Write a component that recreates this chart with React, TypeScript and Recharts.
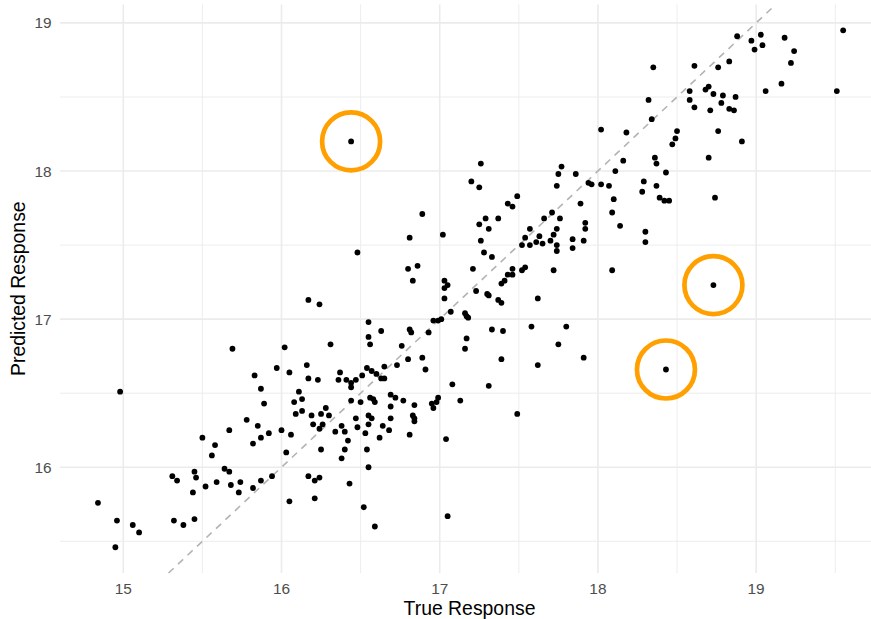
import React from 'react';
import { ScatterChart, Scatter, XAxis, YAxis, CartesianGrid, ReferenceLine, Label } from 'recharts';

// Observed (true) response for each observation
const trueResponse = [
  14.98, 14.84, 14.96, 14.95, 15.06, 15.10, 15.32, 15.38, 15.45, 15.31,
  15.34, 15.45, 15.46, 15.44, 15.52, 15.50, 15.58, 15.56, 15.67, 15.78,
  15.59, 15.64, 15.67, 15.68, 15.74, 15.73,
  16.17, 16.24, 16.55, 16.55, 16.56, 16.02, 16.31, 15.97, 15.83, 16.05,
  16.16, 16.17, 16.23, 16.37, 16.36, 16.41, 16.44, 16.47, 16.51, 16.54,
  16.44, 15.87, 15.89, 16.11, 16.13, 16.08, 16.09, 16.13, 16.19, 16.20,
  16.25, 16.28, 16.30, 16.26, 16.24, 16.44, 16.50, 16.47, 16.48, 16.55,
  16.57, 16.55, 16.38, 16.40, 16.34, 16.42, 16.40, 16.38, 16.53, 16.54,
  16.55, 15.85, 15.92, 15.87, 15.82, 16.00, 16.06, 16.03, 16.25, 15.82,
  15.87, 15.94, 16.17, 16.21, 16.24, 16.43, 16.05, 16.21, 16.52,
  16.80, 16.86, 16.83, 17.21, 17.03, 17.05, 17.03, 17.23, 17.30, 17.31,
  17.03, 17.07, 17.16, 17.18, 17.17, 17.17, 17.16, 16.96, 16.99, 17.01,
  16.93, 16.81, 16.82, 16.76, 16.80, 16.89, 16.91, 16.73, 16.65, 16.63,
  16.57, 16.60, 16.63, 16.65, 16.56, 16.58, 16.59, 16.69, 16.72, 16.77,
  16.69, 16.84, 16.83, 16.84, 16.84, 16.95, 16.96, 16.98, 16.99, 17.08,
  17.13, 17.31, 16.64, 16.62, 16.69, 16.68, 16.81, 17.04, 16.59, 17.05,
  17.20, 17.25, 17.49, 17.43, 17.46, 16.89, 16.81, 17.02, 17.25, 17.29,
  17.31, 17.37, 17.26, 17.28, 17.33, 17.37, 17.39, 17.39, 17.41, 17.43,
  17.46, 17.46, 17.52, 17.54, 17.52, 17.54, 17.57, 17.57, 17.33, 17.40,
  17.58, 17.77, 17.75, 17.74, 17.86, 18.16, 18.11, 17.94, 17.96, 18.02,
  18.07, 18.10, 18.09, 18.14, 17.89, 17.92, 17.92, 17.91, 17.84, 17.84,
  17.26, 17.66, 17.71, 17.76, 17.74, 17.72, 17.63, 17.61, 17.65, 17.70,
  17.74, 17.74, 17.72, 17.62, 18.09, 17.80, 17.75, 17.39, 17.62, 17.91,
  17.49,
  18.35, 18.61, 18.76, 18.83, 18.32, 18.34, 18.58, 18.58, 18.61, 18.68,
  18.70, 18.73, 18.79, 18.78, 18.87, 18.83, 18.86, 18.71, 18.76, 18.91,
  18.70, 18.74, 18.02, 18.18, 18.50, 18.49, 18.47, 18.36, 18.37, 18.43,
  18.29, 18.28, 18.37, 18.39, 18.42, 18.45, 18.30, 18.30, 18.88, 18.97,
  19.03, 19.04, 18.99, 19.18, 19.24, 19.22, 19.16, 19.06, 19.55, 19.51,
  16.44, 16.48, 15.69, 18.73, 18.43,
];

// Model prediction for each observation (same order as trueResponse)
const predictedResponse = [
  16.51, 15.76, 15.64, 15.46, 15.61, 15.56, 15.64, 15.61, 15.65, 15.94,
  15.91, 15.97, 15.93, 15.83, 15.87, 16.20, 16.15, 16.08, 16.25, 16.32,
  15.90, 15.99, 15.97, 15.88, 15.90, 15.83,
  17.13, 17.10, 16.98, 16.88, 16.83, 16.81, 16.83, 16.67, 16.62, 16.64,
  16.69, 16.60, 16.59, 16.64, 16.59, 16.59, 16.57, 16.59, 16.62, 16.67,
  16.54, 16.53, 16.43, 16.51, 16.46, 16.44, 16.36, 16.38, 16.35, 16.29,
  16.36, 16.40, 16.35, 16.29, 16.26, 16.45, 16.44, 16.33, 16.27, 16.35,
  16.33, 16.29, 16.28, 16.24, 16.24, 16.18, 16.12, 16.06, 16.23, 16.12,
  16.00, 16.28, 16.23, 16.20, 16.16, 16.25, 16.22, 16.10, 16.12, 15.86,
  15.91, 15.94, 15.94, 15.91, 15.93, 15.89, 15.77, 15.79, 15.73,
  17.34, 17.36, 17.26, 17.34, 17.26, 17.23, 17.21, 17.19, 17.17, 17.16,
  17.14, 17.05, 17.04, 17.01, 17.02, 16.87, 16.80, 16.99, 16.99, 17.00,
  16.91, 16.93, 16.91, 16.82, 16.73, 16.74, 16.66, 16.69, 16.68, 16.92,
  16.65, 16.63, 16.60, 16.60, 16.47, 16.46, 16.44, 16.49, 16.47, 16.45,
  16.41, 16.42, 16.35, 16.33, 16.31, 16.43, 16.40, 16.44, 16.47, 16.56,
  16.45, 16.55, 16.28, 16.20, 16.33, 16.25, 16.22, 16.19, 15.60, 15.67,
  17.93, 17.89, 17.83, 17.78, 17.76, 17.71, 17.55, 17.57, 17.64, 17.68,
  17.61, 17.68, 17.53, 17.45, 17.42, 17.13, 17.11, 17.24, 17.26, 17.30,
  17.30, 17.34, 17.33, 17.35, 17.50, 17.55, 17.61, 17.50, 16.93, 16.92,
  16.95, 18.03, 17.98, 17.90, 17.98, 18.07, 18.00, 17.92, 17.91, 17.91,
  17.90, 17.81, 17.72, 17.63, 17.78, 17.65, 17.61, 17.53, 17.54, 17.48,
  18.05, 17.68, 17.72, 17.68, 17.61, 17.57, 17.56, 17.52, 17.51, 17.53,
  17.50, 17.46, 17.33, 17.14, 17.33, 16.95, 16.83, 16.73, 16.69, 16.74,
  16.36,
  18.70, 18.71, 18.70, 18.74, 18.48, 18.35, 18.54, 18.48, 18.43, 18.55,
  18.57, 18.52, 18.51, 18.46, 18.50, 18.42, 18.41, 18.41, 18.27, 18.20,
  18.09, 17.82, 18.28, 18.26, 18.27, 18.22, 18.18, 18.09, 18.05, 17.99,
  17.93, 17.86, 17.90, 17.82, 17.80, 17.80, 17.59, 17.52, 18.91, 18.88,
  18.92, 18.85, 18.82, 18.90, 18.81, 18.73, 18.59, 18.54, 18.95, 18.54,
  18.20, 17.45, 16.80, 17.23, 16.66,
];

// Observations highlighted with a ring
const flaggedTrue = [16.44, 18.73, 18.43];
const flaggedPredicted = [18.20, 17.23, 16.66];

// Axis ticks and minor grid positions
const xTicks = [15, 16, 17, 18, 19];
const yTicks = [16, 17, 18, 19];
const xMinor = [15.5, 16.5, 17.5, 18.5, 19.5];
const yMinor = [15.5, 16.5, 17.5, 18.5];

const X_DOMAIN: [number, number] = [14.6, 19.726];
const Y_DOMAIN: [number, number] = [15.286, 19.125];

const FONT = '"Liberation Sans", Arial, Helvetica, sans-serif';
const GRID = '#EBEBEB';

const points = trueResponse.map((x, i) => ({ x, y: predictedResponse[i] }));
const flagged = flaggedTrue.map((x, i) => ({ x, y: flaggedPredicted[i] }));

const XTick = (props: any) => (
  <text
    x={props.x}
    y={props.y + 20.6}
    textAnchor="middle"
    fontFamily={FONT}
    fontSize={15.4}
    fill="#4D4D4D"
  >
    {props.payload.value}
  </text>
);

const YTick = (props: any) => (
  <text
    x={props.x - 8.5}
    y={props.y + 5.5}
    textAnchor="end"
    fontFamily={FONT}
    fontSize={15.4}
    fill="#4D4D4D"
  >
    {props.payload.value}
  </text>
);

const XTitle = (props: any) => {
  const vb = props.viewBox || { x: 60, y: 573, width: 811, height: 46 };
  return (
    <text
      x={vb.x + vb.width / 2 + 4}
      y={vb.y + 41.5}
      textAnchor="middle"
      fontFamily={FONT}
      fontSize={19.4}
      fill="#000"
    >
      True Response
    </text>
  );
};

const YTitle = (props: any) => {
  const vb = props.viewBox || { x: 0, y: 4.4, width: 60, height: 568.6 };
  const cx = vb.x + 25;
  const cy = vb.y + vb.height / 2;
  return (
    <text
      x={cx}
      y={cy}
      transform={`rotate(-90, ${cx}, ${cy})`}
      textAnchor="middle"
      fontFamily={FONT}
      fontSize={19.4}
      fill="#000"
    >
      Predicted Response
    </text>
  );
};

const Dot = (props: any) => <circle cx={props.cx} cy={props.cy} r={2.9} fill="#000" />;

const Ring = (props: any) => (
  <circle cx={props.cx} cy={props.cy} r={29} fill="none" stroke="#FFA000" strokeWidth={4.7} />
);

export default function App() {
  return (
    <div style={{ position: 'absolute', left: 0, top: 0, width: 871, height: 619, background: '#fff' }}>
      <ScatterChart width={871} height={619} margin={{ top: 4.4, right: 0, bottom: 0, left: 0 }}>
        <CartesianGrid
          stroke={GRID}
          strokeWidth={0.9}
          verticalValues={xMinor}
          horizontalValues={yMinor}
          syncWithTicks
        />
        <CartesianGrid stroke={GRID} strokeWidth={1.6} syncWithTicks />
        <XAxis
          type="number"
          dataKey="x"
          domain={X_DOMAIN}
          ticks={xTicks}
          allowDataOverflow
          axisLine={false}
          tickLine={false}
          tickSize={0}
          tickMargin={0}
          interval={0}
          height={46}
          tick={XTick}
        >
          <Label content={XTitle} />
        </XAxis>
        <YAxis
          type="number"
          dataKey="y"
          domain={Y_DOMAIN}
          ticks={yTicks}
          allowDataOverflow
          axisLine={false}
          tickLine={false}
          tickSize={0}
          tickMargin={0}
          interval={0}
          width={60}
          tick={YTick}
        >
          <Label content={YTitle} />
        </YAxis>
        <ReferenceLine
          segment={[
            { x: Y_DOMAIN[0], y: Y_DOMAIN[0] },
            { x: Y_DOMAIN[1], y: Y_DOMAIN[1] },
          ]}
          stroke="#B3B3B3"
          strokeWidth={1.6}
          strokeDasharray="7 6"
          ifOverflow="visible"
        />
        <Scatter data={points} isAnimationActive={false} shape={Dot} />
        <Scatter data={flagged} isAnimationActive={false} shape={Ring} />
      </ScatterChart>
    </div>
  );
}
